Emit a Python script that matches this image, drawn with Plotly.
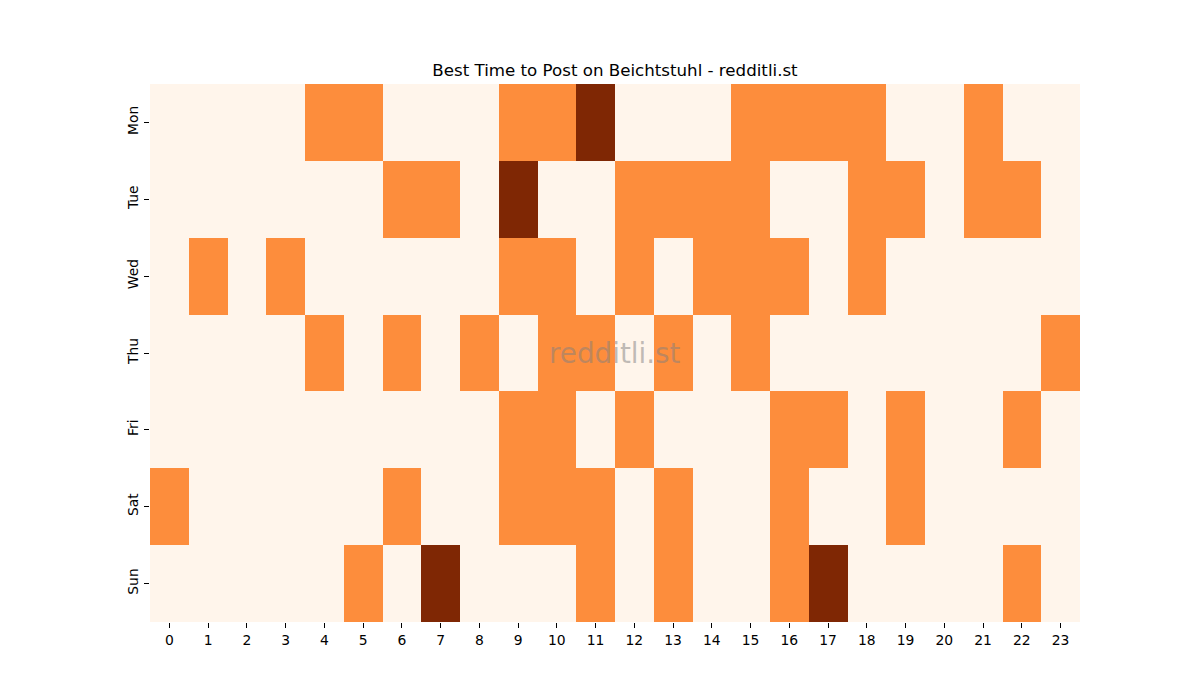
import plotly.graph_objects as go

days = ["Mon", "Tue", "Wed", "Thu", "Fri", "Sat", "Sun"]
hours = list(range(24))

mon = [0,0,0,0,1,1,0,0,0,1,1,2,0,0,0,1,1,1,1,0,0,1,0,0]
tue = [0,0,0,0,0,0,1,1,0,2,0,0,1,1,1,1,0,0,1,1,0,1,1,0]
wed = [0,1,0,1,0,0,0,0,0,1,1,0,1,0,1,1,1,0,1,0,0,0,0,0]
thu = [0,0,0,0,1,0,1,0,1,0,1,1,0,1,0,1,0,0,0,0,0,0,0,1]
fri = [0,0,0,0,0,0,0,0,0,1,1,0,1,0,0,0,1,1,0,1,0,0,1,0]
sat = [1,0,0,0,0,0,1,0,0,1,1,1,0,1,0,0,1,0,0,1,0,0,0,0]
sun = [0,0,0,0,0,1,0,2,0,0,0,1,0,1,0,0,1,2,0,0,0,0,1,0]

z = [mon, tue, wed, thu, fri, sat, sun]

font = "DejaVu Sans"
fig = go.Figure(go.Heatmap(
    z=z, x=hours, y=days,
    colorscale=[[0, "#fff5eb"], [0.5, "#fd8d3c"], [1, "#7f2704"]],
    zmin=0, zmax=2, showscale=False, xgap=0, ygap=0,
))

fig.update_layout(
    width=1200, height=700,
    margin=dict(l=150, r=120, t=84, b=78),
    paper_bgcolor="white", plot_bgcolor="white",
    title=dict(text="Best Time to Post on Beichtstuhl - redditli.st",
               x=0.5, xanchor="center", xref="paper", y=1 - 70/700, yanchor="middle",
               font=dict(family=font, size=16.67, color="black")),
    font=dict(family=font, size=13.9, color="black"),
    xaxis=dict(tickmode="array", tickvals=hours, ticktext=[str(h) for h in hours],
               ticks="outside", ticklen=5, tickcolor="black", showgrid=False,
               zeroline=False, showline=False, range=[-0.5, 23.5],
               tickfont=dict(family=font, size=13.9)),
    yaxis=dict(autorange="reversed", ticks="outside", ticklen=5, tickcolor="black",
               showgrid=False, zeroline=False, showline=False, tickangle=-90,
               tickfont=dict(family=font, size=13.9)),
    annotations=[dict(text="redditli.st", x=0.5, y=0.5, xref="paper", yref="paper",
                      showarrow=False,
                      font=dict(family=font, size=27.8, color="rgba(128,128,128,0.5)"))],
)

fig.write_html("out.html")
